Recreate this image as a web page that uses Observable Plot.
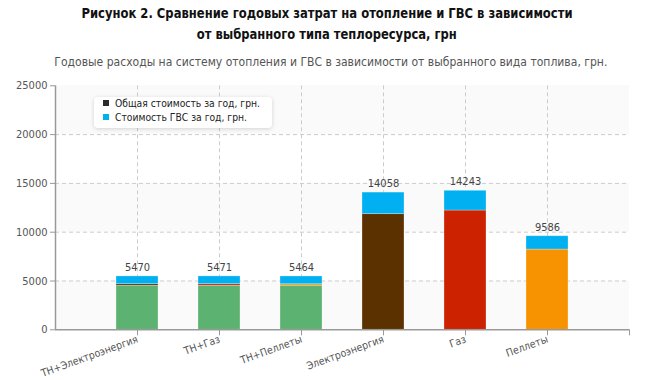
<!DOCTYPE html>
<html><head><meta charset="utf-8">
<script src="https://cdn.jsdelivr.net/npm/d3@7"></script>
<script src="https://cdn.jsdelivr.net/npm/@observablehq/plot@0.6"></script>
<style>
body{margin:0;background:#fff;width:650px;height:380px;overflow:hidden;position:relative;font-family:"DejaVu Sans Condensed","DejaVu Sans",sans-serif;}
.line{position:absolute;left:0;width:650px;text-align:center;white-space:nowrap;}
.line span{display:inline-block;transform-origin:50% 50%;}
#t1{top:4px;height:18px;line-height:18px;font-weight:bold;font-size:14px;color:#111;left:2px;}
#t2{top:25px;height:18px;line-height:18px;font-weight:bold;font-size:14px;color:#111;left:2px;}
#sub{top:54px;height:16px;line-height:16px;font-size:12px;color:#555;left:6px;}
#chart{position:absolute;left:0;top:72px;}
#legend{position:absolute;left:94px;top:97px;width:178px;height:31px;background:#fff;border-radius:4px;box-shadow:0 1px 4px rgba(0,0,0,0.16);font-size:10px;color:#222;}
.li{position:absolute;left:9px;height:14px;line-height:14px;white-space:nowrap;}
.li i{display:inline-block;width:6px;height:6px;margin-right:6px;vertical-align:middle;position:relative;top:-1px;}
.li span{display:inline-block;transform-origin:0 50%;}
</style>
</head><body>
<div id="t1" class="line"><span data-w="491">Рисунок 2. Сравнение годовых затрат на отопление и ГВС в зависимости</span></div>
<div id="t2" class="line"><span data-w="260">от выбранного типа теплоресурса, грн</span></div>
<div id="sub" class="line"><span data-w="553">Годовые расходы на систему отопления и ГВС в зависимости от выбранного вида топлива, грн.</span></div>
<div id="chart"></div>
<div id="legend"></div>
<script>
// Data
const categories = ["ТН+Электроэнергия", "ТН+Газ", "ТН+Пеллеты", "Электроэнергия", "Газ", "Пеллеты"];
const totals     = [5470, 5471, 5464, 14058, 14243, 9586];
const heatMain   = [4520, 4520, 4520, 11850, 12220, 8220];   // main heating source
const heatAux    = [160, 160, 150, 0, 0, 0];                // auxiliary source (thin layer)
const mainColors = ["#5cb270", "#5cb270", "#5cb270", "#5c3100", "#cc2200", "#f79200"];
const auxColors  = ["#5c3100", "#cc2200", "#f79200", "#5c3100", "#cc2200", "#f79200"];
const dhwColor   = "#00b0f0";
const yTicks     = [0, 5000, 10000, 15000, 20000, 25000];
const legendItems = [
  {label: "Общая стоимость за год, грн.", color: "#2b2b2b", w: 145},
  {label: "Стоимость ГВС за год, грн.", color: "#00b0f0", w: 132}
];

const half = 0.256;
const rows = [];
categories.forEach((c, i) => {
  const dhw = totals[i] - heatMain[i] - heatAux[i];
  const parts = [
    {v: heatMain[i], fill: mainColors[i]},
    {v: heatAux[i], fill: auxColors[i]},
    {v: dhw, fill: dhwColor}
  ];
  let acc = 0;
  parts.forEach(p => {
    if (p.v > 0) rows.push({pos: i + 1, y1: acc, y2: acc + p.v, fill: p.fill});
    acc += p.v;
  });
});
const labels = categories.map((c, i) => ({pos: i + 1, total: totals[i]}));
const bandStarts = [0, 10000, 20000];

const chart = Plot.plot({
  width: 650, height: 308,
  marginLeft: 55, marginRight: 21, marginTop: 13.3, marginBottom: 50.7,
  style: {fontFamily: "'DejaVu Sans Condensed','DejaVu Sans',sans-serif", fontSize: "11px", background: "transparent", overflow: "visible"},
  x: {type: "linear", domain: [0, 7]},
  y: {domain: [0, 25000]},
  marks: [
    Plot.rect(bandStarts, {x1: 0, x2: 7, y1: d => d, y2: d => d + 5000, fill: "#fbfafb"}),
    Plot.gridY([5000, 10000, 15000, 20000], {stroke: "#cccccc", strokeOpacity: 1, strokeDasharray: "4,3"}),
    Plot.gridX([1, 2, 3, 4, 5, 6], {stroke: "#cccccc", strokeOpacity: 1, strokeDasharray: "4,3"}),
    Plot.rect(rows, {x1: d => d.pos - half, x2: d => d.pos + half, y1: "y1", y2: "y2", fill: "fill", stroke: "#fff", strokeOpacity: 0.35, strokeWidth: 0.8}),
    Plot.text(labels, {x: "pos", y: "total", text: d => String(d.total), dy: -9, fill: "#444", fontSize: 11}),
    Plot.ruleY([0], {stroke: "#999", strokeWidth: 1.5}),
    Plot.ruleX([0], {stroke: "#999", strokeWidth: 1.5}),
    Plot.axisY({ticks: yTicks, tickSize: 5, tickPadding: 3, stroke: "#999", fill: "#555", label: null, tickFormat: d => String(d)}),
    Plot.axisX({ticks: [1, 2, 3, 4, 5, 6, 7], tickSize: 6, tickPadding: 3, tickRotate: -20, stroke: "#999", fill: "#555", fontSize: 10.5, label: null,
      tickFormat: d => categories[d - 1] ?? ""})
  ]
});
document.getElementById("chart").appendChild(chart);

const lg = document.getElementById("legend");
legendItems.forEach((it, k) => {
  const el = document.createElement("div");
  el.className = "li";
  el.style.top = (k === 0 ? 0 : 14) + "px";
  el.innerHTML = `<i style="background:${it.color}"></i><span data-w="${it.w}">${it.label}</span>`;
  lg.appendChild(el);
});

document.querySelectorAll("span[data-w]").forEach(s => {
  const w = s.getBoundingClientRect().width;
  const target = +s.dataset.w;
  if (w > 0) s.style.transform = `scaleX(${target / w})`;
});
</script>
</body></html>
